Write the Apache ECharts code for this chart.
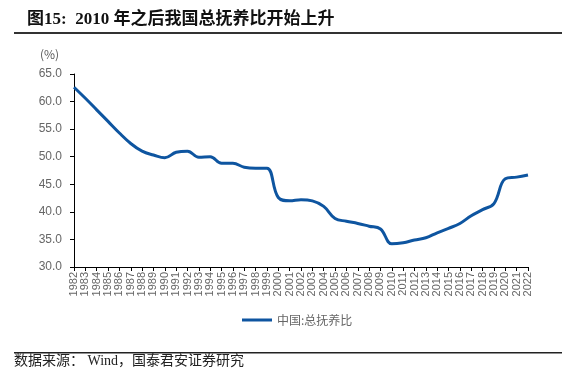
<!DOCTYPE html>
<html>
<head>
<meta charset="utf-8">
<script src="https://cdn.jsdelivr.net/npm/echarts@6/dist/echarts.min.js"></script>
<style>
html,body{margin:0;padding:0;background:#fff;}
#c{width:568px;height:370px;}
</style>
</head>
<body>
<div id="c"></div>
<script>
const years = ['1982','1983','1984','1985','1986','1987','1988','1989','1990','1991','1992','1993','1994','1995','1996','1997','1998','1999','2000','2001','2002','2003','2004','2005','2006','2007','2008','2009','2010','2011','2012','2013','2014','2015','2016','2017','2018','2019','2020','2021','2022'];
const dependencyRatio = [62.6,60.6,58.5,56.4,54.3,52.4,51.0,50.3,49.8,50.8,51.0,49.9,50.0,48.8,48.8,48.1,47.9,47.9,42.6,42.0,42.2,42.0,41.0,38.8,38.3,37.9,37.4,36.9,34.2,34.4,34.9,35.3,36.2,37.0,37.9,39.3,40.4,41.5,46.0,46.3,46.7];
const seriesName = '中国:总抚养比';
const titleText = '图15:  2010 年之后我国总抚养比开始上升';
const sourceText = '数据来源： Wind，国泰君安证券研究';

const chart = echarts.init(document.getElementById('c'), null, {renderer:'canvas'});
const blue = '#0E55A0';
chart.setOption({
  animation:false,
  backgroundColor:'#fff',
  grid:{left:74,right:40,top:74,bottom:103,containLabel:false},
  legend:{
    data:[seriesName],
    left:237, top:309,
    itemWidth:30, itemHeight:3, itemGap:5,
    icon:'rect',
    textStyle:{color:'#666',fontSize:12,fontFamily:'Noto Sans CJK SC'}
  },
  xAxis:{
    type:'category',
    data:years,
    boundaryGap:false,
    axisLine:{lineStyle:{color:'#000',width:1}},
    axisTick:{show:true,alignWithLabel:true,length:4,interval:0,lineStyle:{color:'#000'}},
    axisLabel:{interval:0,rotate:90,color:'#666',fontSize:11,margin:5,fontFamily:'Liberation Sans'},
    splitLine:{show:false}
  },
  yAxis:{
    type:'value',
    min:30,max:65,interval:5,
    axisLine:{show:true,lineStyle:{color:'#000',width:1}},
    axisTick:{show:true,length:4,lineStyle:{color:'#000'}},
    axisLabel:{color:'#666',fontSize:12,margin:12,fontFamily:'Liberation Sans',formatter:v=>v.toFixed(1)},
    splitLine:{show:false}
  },
  series:[{
    name:seriesName,
    type:'line',
    data:dependencyRatio,
    smooth:0.4,
    symbol:'none',
    lineStyle:{color:blue,width:3},
    itemStyle:{color:blue}
  }],
  graphic:[
    {type:'text',left:27,top:11,style:{text:titleText,font:'bold 17px "Liberation Serif","Noto Sans CJK SC"',fill:'#111'}},
    {type:'rect',shape:{x:14,y:32,width:548,height:2},style:{fill:'#333'}},
    {type:'text',left:40,top:48,style:{text:'(%)',font:'12px "Noto Sans CJK SC"',fill:'#595959'}},
    {type:'rect',shape:{x:14,y:352,width:548,height:1.5},style:{fill:'#222'}},
    {type:'text',left:14,top:354,style:{text:sourceText,font:'14px "Liberation Serif","Noto Sans CJK SC"',fill:'#222'}}
  ]
});
</script>
</body>
</html>
